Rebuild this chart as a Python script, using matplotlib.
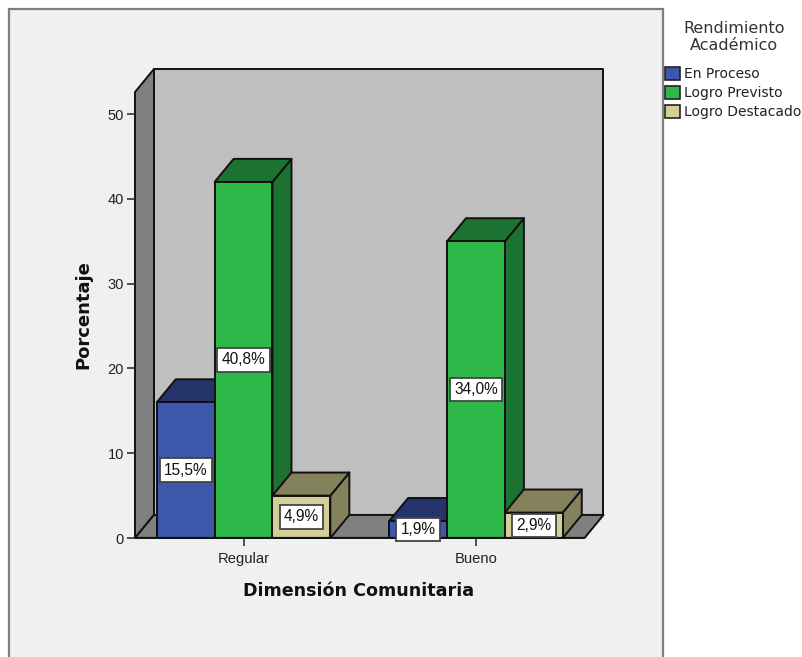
import matplotlib.pyplot as plt
from matplotlib.patches import Patch, Rectangle

categories = ['Regular', 'Bueno']
series = ['En Proceso', 'Logro Previsto', 'Logro Destacado']
heights = [[16, 2], [42, 35], [5, 3]]
labels = [['15,5%', '1,9%'], ['40,8%', '34,0%'], ['4,9%', '2,9%']]
yticks = [0, 10, 20, 30, 40, 50]

front_colors = ['#3d57ab', '#2eb84a', '#d4cf98']
dark_colors = ['#25346b', '#1c7230', '#84815d']

W, H = 803, 657
bar_w = 0.249
depth_x = 0.0817
depth_y = 2.72
y_wall = 52.6
x_lo, x_hi = -0.467, 1.467

plt.rcParams['font.family'] = 'Liberation Sans'
fig = plt.figure(figsize=(W / 100, H / 100), dpi=100, facecolor='white')

# gray panel behind the chart, runs off the bottom edge
fig.patches.append(Rectangle((8.5 / W, -0.02), 654.5 / W, 1.02 - 8.5 / H, transform=fig.transFigure,
                             facecolor='#f0f0f0', edgecolor='#7f7f7f', linewidth=1.6, zorder=-5))

ax = fig.add_axes([135 / W, (H - 538) / H, (603.5 - 135) / W, (538 - 69) / H])
ax.patch.set_visible(False)
for s in ax.spines.values():
    s.set_visible(False)
ax.set_xlim(x_lo, x_hi + depth_x)
ax.set_ylim(0, y_wall + depth_y)

# walls and floor
edge = dict(edgecolor='#111111', linewidth=1.4, joinstyle='round')
ax.fill([x_lo + depth_x, x_hi + depth_x, x_hi + depth_x, x_lo + depth_x],
        [depth_y, depth_y, y_wall + depth_y, y_wall + depth_y], facecolor='#bfbfbf', clip_on=False, zorder=1, **edge)
ax.fill([x_lo, x_lo + depth_x, x_lo + depth_x, x_lo],
        [0, depth_y, y_wall + depth_y, y_wall], facecolor='#808080', clip_on=False, zorder=1, **edge)
ax.fill([x_lo, x_hi, x_hi + depth_x, x_lo + depth_x],
        [0, 0, depth_y, depth_y], facecolor='#808080', clip_on=False, zorder=1, **edge)

# bars, drawn left to right so each one covers the side of the previous
z = 2
for c in range(len(categories)):
    for i in range(len(series)):
        h = heights[i][c]
        x0 = c + (i - 1.5) * bar_w
        x1 = x0 + bar_w
        ax.fill([x1, x1 + depth_x, x1 + depth_x, x1], [0, depth_y, h + depth_y, h],
                facecolor=dark_colors[i], clip_on=False, zorder=z, **edge)
        ax.fill([x0, x1, x1 + depth_x, x0 + depth_x], [h, h, h + depth_y, h + depth_y],
                facecolor=dark_colors[i], clip_on=False, zorder=z, **edge)
        ax.bar(c + (i - 1) * bar_w, h, width=bar_w, color=front_colors[i], zorder=z, clip_on=False, **edge)
        z += 1

for c in range(len(categories)):
    for i in range(len(series)):
        ax.text(c + (i - 1) * bar_w, heights[i][c] / 2, labels[i][c], ha='center', va='center',
                fontsize=11.2, color='#111111', zorder=20, clip_on=False,
                bbox=dict(boxstyle='square,pad=0.27', facecolor='white', edgecolor='#444444', linewidth=1.3))

ax.axhline(0, xmin=0, xmax=(x_hi - x_lo) / (x_hi + depth_x - x_lo), color='#111111', linewidth=1.6, zorder=15)

ax.set_xticks(range(len(categories)), categories)
ax.set_yticks(yticks)
ax.tick_params(axis='x', length=6, width=1.2, color='#333333', labelsize=10.6, labelcolor='#222222', pad=4)
ax.tick_params(axis='y', length=6, width=1.2, color='#333333', labelsize=10.5, labelcolor='#222222', pad=2)

ax.set_xlabel('Dimensión Comunitaria', fontsize=12.6, fontweight='bold', family='DejaVu Sans', color='#111111')
ax.xaxis.set_label_coords((359 - 135) / 468.5, (538 - 591) / 469)
ax.xaxis.label.set_va('center')
ax.set_ylabel('Porcentaje', fontsize=13, fontweight='bold', family='DejaVu Sans', color='#111111')
ax.yaxis.set_label_coords((83 - 135) / 468.5, (538 - 315) / 469)
ax.yaxis.label.set_va('center')

fig.text(734 / W, 1 - 37 / H, 'Rendimiento\nAcadémico', ha='center', va='center', fontsize=11.5,
         family='DejaVu Sans', color='#333333', linespacing=1.15)
handles = [Patch(facecolor=front_colors[i], edgecolor='#222222', linewidth=1.2, label=series[i]) for i in range(len(series))]
leg = fig.legend(handles=handles, loc='upper left',
                 bbox_to_anchor=(665 / W, 1 - 67 / H), frameon=False, borderaxespad=0, borderpad=0,
                 handlelength=1.05, handleheight=1.05, handletextpad=0.3, labelspacing=0.35,
                 prop=dict(family='DejaVu Sans', size=10))
for t in leg.get_texts():
    t.set_color('#222222')

fig.savefig('out.png', dpi=100)
